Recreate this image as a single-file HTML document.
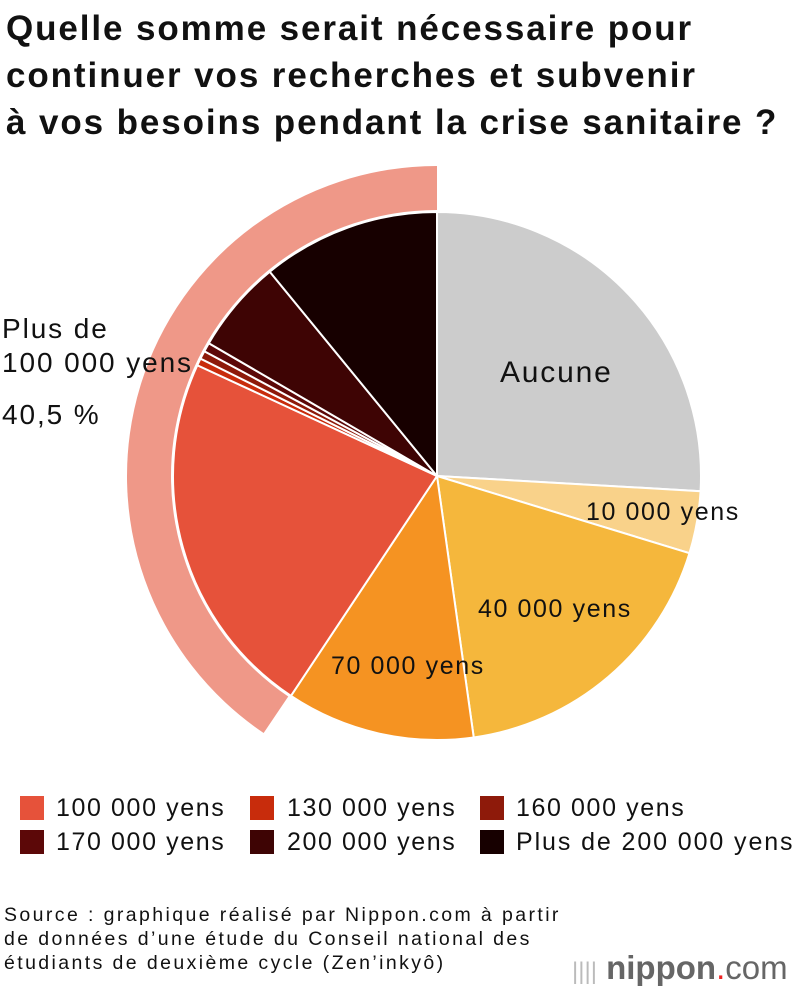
<!DOCTYPE html>
<html><head><meta charset="utf-8"><style>
body{margin:0;width:800px;height:992px;background:#fff;font-family:"Liberation Sans",Arial,sans-serif;overflow:hidden;position:relative}
.t{position:absolute;left:6px;top:5px;font-size:35px;font-weight:bold;line-height:47px;color:#111;letter-spacing:1.9px;white-space:nowrap}
.lg{position:absolute;font-size:25px;color:#111;white-space:nowrap;letter-spacing:1.6px;line-height:28px}
.sw{position:absolute;width:24px;height:24px}
.src{position:absolute;left:4px;top:903px;font-size:19.5px;line-height:24px;color:#111;letter-spacing:2.4px;white-space:nowrap}
</style></head><body>
<div class="t">Quelle somme serait nécessaire pour<br>continuer vos recherches et subvenir<br>à vos besoins pendant la crise sanitaire ?</div>
<svg id="s" width="800" height="992" style="position:absolute;left:0;top:0"></svg>
<div class="sw" style="left:20px;top:796px;background:#e6523a"></div><div class="lg" style="left:56px;top:794px">100 000 yens</div>
<div class="sw" style="left:250px;top:796px;background:#c82c0c"></div><div class="lg" style="left:287px;top:794px">130 000 yens</div>
<div class="sw" style="left:480px;top:796px;background:#8e1a0a"></div><div class="lg" style="left:516px;top:794px">160 000 yens</div>
<div class="sw" style="left:20px;top:830px;background:#5c0808"></div><div class="lg" style="left:56px;top:828px">170 000 yens</div>
<div class="sw" style="left:250px;top:830px;background:#3e0404"></div><div class="lg" style="left:287px;top:828px">200 000 yens</div>
<div class="sw" style="left:480px;top:830px;background:#170000"></div><div class="lg" style="left:516px;top:828px;letter-spacing:1.9px">Plus de 200 000 yens</div>
<div class="src">Source : graphique réalisé par Nippon.com à partir<br>de données d’une étude du Conseil national des<br>étudiants de deuxième cycle (Zen’inkyô)</div>
<div style="position:absolute;left:572px;top:948px;font-size:33px;color:#666;white-space:nowrap;line-height:40px"><span style="color:#bbb;font-size:24px">||||</span> <b>nippon</b><span style="color:#e22">.</span>com</div>
<script>
var cx=437,cy=476,R=264,s=document.getElementById('s'),ns='http://www.w3.org/2000/svg';
function pt(a,r){a=a*Math.PI/180;return [cx+r*Math.sin(a),cy-r*Math.cos(a)];}
function add(d,f,sw){var p=document.createElementNS(ns,'path');p.setAttribute('d',d);p.setAttribute('fill',f);p.setAttribute('stroke','#fff');p.setAttribute('stroke-width',sw);s.appendChild(p);}
function arcP(a0,a1,r0,r1){var p1=pt(a0,r1),p2=pt(a1,r1),p3=pt(a1,r0),p4=pt(a0,r0),l=(a1-a0)>180?1:0;
 if(r0==0)return 'M'+cx+' '+cy+'L'+p1+'A'+r1+' '+r1+' 0 '+l+' 1 '+p2+'Z';
 return 'M'+p1+'A'+r1+' '+r1+' 0 '+l+' 1 '+p2+'L'+p3+'A'+r0+' '+r0+' 0 '+l+' 0 '+p4+'Z';}
add(arcP(214,360,266,310),'#ef9888',0);
var sl=[[0,93.3,'#cccccc'],[93.3,107,'#f9d28a'],[107,172,'#f5b73c'],[172,213.6,'#f59322'],[213.6,294.8,'#e6523a'],[294.8,296.4,'#c82c0c'],[296.4,298.2,'#8e1a0a'],[298.2,300.2,'#5c0808'],[300.2,320.7,'#3e0404'],[320.7,360,'#170000']];
sl.forEach(function(x){add(arcP(x[0],x[1],0,R),x[2],2);});
function tx(x,y,t,sz,ls){var e=document.createElementNS(ns,'text');e.setAttribute('x',x);e.setAttribute('y',y);e.setAttribute('font-size',sz);e.setAttribute('letter-spacing',ls);e.setAttribute('font-family','Liberation Sans,Arial,sans-serif');e.setAttribute('fill','#111');e.textContent=t;s.appendChild(e);}
tx(500,382,'Aucune',30,1.8);tx(586,520,'10 000 yens',25,1.6);tx(478,617,'40 000 yens',25,1.6);tx(331,674,'70 000 yens',25,1.6);
tx(2,338,'Plus de',28,1.9);tx(2,372,'100 000 yens',28,1.9);tx(2,424,'40,5 %',28,1.9);
</script>
</body></html>
